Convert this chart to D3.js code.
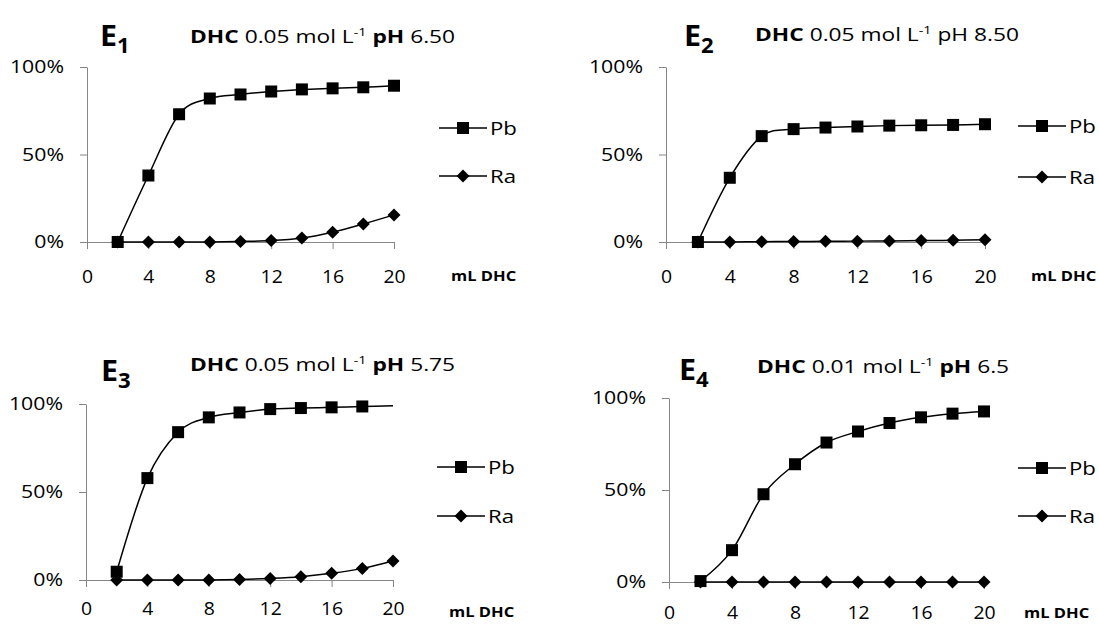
<!DOCTYPE html>
<html>
<head>
<meta charset="utf-8">
<script src="https://cdn.jsdelivr.net/npm/d3@7"></script>
<style>
  body { margin: 0; background: #fff; }
  text { font-family: "Open Sans", sans-serif; fill: #000; }
  .axis path, .axis line { stroke: #868686; stroke-width: 1; }
</style>
</head>
<body>
<div id="chart"></div>
<script>
// Data (fraction extracted vs mL of DHC added)
var mlDHC = [2, 4, 6, 8, 10, 12, 14, 16, 18, 20];
var xTickValues = [0, 4, 8, 12, 16, 20];
var yTickValues = [0, 0.5, 1];
var seriesNames = ["Pb", "Ra"];

var e1Pb = [0, 0.38, 0.73, 0.82, 0.843, 0.86, 0.872, 0.878, 0.884, 0.893];
var e1Ra = [0, 0, 0, 0, 0.003, 0.008, 0.023, 0.056, 0.103, 0.155];
var e2Pb = [0, 0.367, 0.605, 0.645, 0.654, 0.66, 0.665, 0.667, 0.669, 0.673];
var e2Ra = [0, 0, 0.002, 0.003, 0.004, 0.005, 0.006, 0.008, 0.01, 0.013];
var e3Pb = [0.047, 0.579, 0.84, 0.924, 0.952, 0.971, 0.977, 0.981, 0.986, 0.99];
var e3Ra = [0, 0, 0, 0, 0.003, 0.009, 0.019, 0.038, 0.066, 0.108];
var e4Pb = [0.005, 0.173, 0.477, 0.64, 0.758, 0.818, 0.864, 0.895, 0.915, 0.927];
var e4Ra = [0, 0, 0, 0, 0, 0, 0, 0, 0, 0];

// panel headings
var titleLetters = ["E", "E", "E", "E"];
var titleSubs = ["1", "2", "3", "4"];
var concentrations = ["0.05", "0.05", "0.05", "0.01"];
var phValues = ["6.50", "8.50", "5.75", "6.5"];
var phBold = [true, false, true, true];
var xAxisTitle = "mL DHC";

var width = 1099, height = 624;

var svg = d3.select("#chart").append("svg")
  .attr("width", width)
  .attr("height", height);

svg.append("rect").attr("width", width).attr("height", height).attr("fill", "#fff");

// layout of each panel (pixel boxes)
var panels = [
  { pb: e1Pb, ra: e1Ra, pbMarkers: 10, x0: 87, x1: 394, yTop: 67, yBot: 242, xLabGap: 21,
    titleX: 100, titleY: 46, subX: 190, subY: 43, legX: 439, legY: [128, 176], mlX: 451, mlY: 281 },
  { pb: e2Pb, ra: e2Ra, pbMarkers: 10, x0: 666, x1: 985, yTop: 67, yBot: 242, xLabGap: 21,
    titleX: 684, titleY: 46, subX: 755, subY: 41, legX: 1018, legY: [126, 177], mlX: 1031, mlY: 281 },
  { pb: e3Pb, ra: e3Ra, pbMarkers: 9, x0: 86, x1: 393, yTop: 404, yBot: 580, xLabGap: 15,
    titleX: 101, titleY: 381, subX: 190, subY: 371, legX: 437, legY: [467, 516], mlX: 449, mlY: 617 },
  { pb: e4Pb, ra: e4Ra, pbMarkers: 10, x0: 669, x1: 984, yTop: 398, yBot: 582, xLabGap: 17,
    titleX: 679, titleY: 380, subX: 757, subY: 373, legX: 1018, legY: [468, 516], mlX: 1024, mlY: 618 }
];

function squarePath(s) {
  return "M" + (-s) + "," + (-s) + "H" + s + "V" + s + "H" + (-s) + "Z";
}
function diamondPath(s) {
  return "M0," + (-s) + "L" + s + ",0L0," + s + "L" + (-s) + ",0Z";
}
var markerPaths = [squarePath(6), diamondPath(6.5)];

// the source lettering is wider than Open Sans: stretch text horizontally
function wideText(parent, x, y, sx) {
  return parent.append("text")
    .attr("transform", "translate(" + x + "," + y + ") scale(" + sx + ",1)");
}
function stretchAxisText(a, sx, size) {
  a.selectAll("text").each(function() {
    var t = d3.select(this);
    var x = +t.attr("x") || 0, y = +t.attr("y") || 0;
    t.attr("x", null).attr("y", null)
      .attr("transform", "translate(" + x + "," + y + ") scale(" + sx + ",1)")
      .style("font-size", size);
  });
}

panels.forEach(function(p, i) {
  var g = svg.append("g");

  var xScale = d3.scaleLinear().domain([0, 20]).range([p.x0, p.x1]);
  var yScale = d3.scaleLinear().domain([0, 1]).range([p.yBot, p.yTop]);

  // axes
  var yAxis = d3.axisLeft(yScale)
    .tickValues(yTickValues)
    .tickSize(7)
    .tickSizeOuter(0)
    .tickPadding(16)
    .tickFormat(d3.format(".0%"));
  var xAxis = d3.axisBottom(xScale)
    .tickValues(xTickValues)
    .tickSize(7)
    .tickSizeOuter(0)
    .tickPadding(p.xLabGap);

  g.append("g").attr("class", "axis")
    .attr("transform", "translate(" + p.x0 + ",0)")
    .call(yAxis)
    .call(function(a) { stretchAxisText(a, 1.15, "18.5px"); })
    .selectAll("text").attr("font-family", null);

  g.append("g").attr("class", "axis")
    .attr("transform", "translate(0," + p.yBot + ")")
    .call(xAxis)
    .call(function(a) { stretchAxisText(a, 1.05, "18.5px"); })
    .selectAll("text").attr("font-family", null);

  // series
  var line = d3.line()
    .x(function(d) { return xScale(d[0]); })
    .y(function(d) { return yScale(d[1]); })
    .curve(d3.curveCardinal.tension(0));

  [p.pb, p.ra].forEach(function(vals, k) {
    var pts = mlDHC.map(function(x, j) { return [x, vals[j]]; });
    g.append("path")
      .attr("d", line(pts))
      .attr("fill", "none")
      .attr("stroke", "#000")
      .attr("stroke-width", 1.5);
    var shown = k === 0 ? pts.slice(0, p.pbMarkers) : pts;
    g.selectAll(null).data(shown).enter().append("path")
      .attr("d", markerPaths[k])
      .attr("transform", function(d) { return "translate(" + xScale(d[0]) + "," + yScale(d[1]) + ")"; })
      .attr("fill", "#000");
  });

  // legend
  seriesNames.forEach(function(name, k) {
    var ly = p.legY[k];
    g.append("line")
      .attr("x1", p.legX).attr("x2", p.legX + 48)
      .attr("y1", ly).attr("y2", ly)
      .attr("stroke", "#000").attr("stroke-width", 1.5);
    g.append("path")
      .attr("d", markerPaths[k])
      .attr("transform", "translate(" + (p.legX + 24) + "," + ly + ")")
      .attr("fill", "#000");
    wideText(g, p.legX + 51, ly + 6.8, 1.2)
      .style("font-size", "18.5px")
      .text(name);
  });

  // x axis title
  wideText(g, p.mlX, p.mlY, 1.18)
    .style("font-size", "14px")
    .style("font-weight", "bold")
    .text(xAxisTitle);

  // panel label E with subscript
  var t = wideText(g, p.titleX, p.titleY, 1.05)
    .style("font-weight", "bold")
    .style("font-size", "29px");
  t.append("tspan").text(titleLetters[i]);
  t.append("tspan").attr("dy", 7).style("font-size", "21px").text(titleSubs[i]);

  // condition subtitle
  var s = wideText(g, p.subX, p.subY, 1.3)
    .style("font-size", "17.5px");
  s.append("tspan").style("font-weight", "bold").text("DHC");
  s.append("tspan").text(" " + concentrations[i] + " mol L");
  s.append("tspan").attr("dy", -7).style("font-size", "11px").text("-1");
  s.append("tspan").attr("dy", 7).style("font-weight", phBold[i] ? "bold" : "normal").text(" pH");
  s.append("tspan").text(" " + phValues[i]);
});
</script>
</body>
</html>
